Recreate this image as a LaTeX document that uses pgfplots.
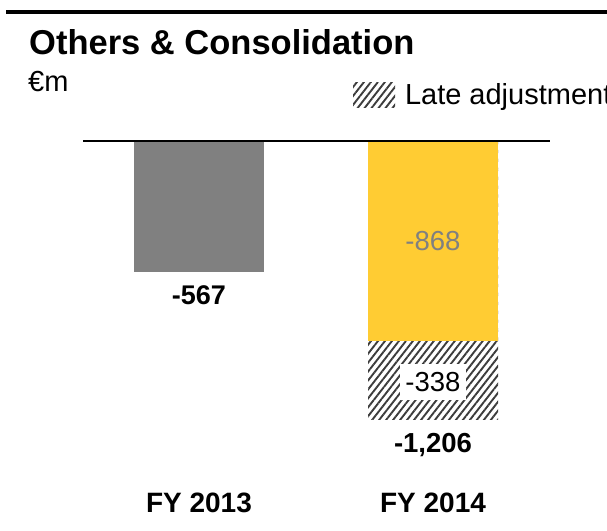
\documentclass[border=0pt]{standalone}
\usepackage{fontspec}
\setmainfont{Liberation Sans}
\usepackage{pgfplots}
\pgfplotsset{compat=1.18}
\usetikzlibrary{patterns.meta}
\definecolor{barGray}{RGB}{128,128,128}
\definecolor{barYellow}{RGB}{255,204,51}
\definecolor{hatchcol}{RGB}{60,60,60}
\tikzset{latehatch/.style={pattern={Lines[angle=52,distance=5.5pt,line width=1.9pt]}, pattern color=hatchcol}}
\begin{document}
\begin{tikzpicture}
\useasboundingbox (0,0) rectangle (607pt,530pt);
\draw[line width=3.5pt] (6pt,518pt) -- (607pt,518pt);
\node[anchor=base west, inner sep=0pt, font=\fontsize{34.5}{38}\selectfont\bfseries] at (29pt,475pt) {Others \& Consolidation};
\node[anchor=base west, inner sep=0pt, font=\fontsize{29}{32}\selectfont] at (28pt,438pt) {€m};
\begin{axis}[
  at={(83pt,89.2pt)}, anchor=south west,
  scale only axis, width=467pt, height=299.8pt,
  xmin=-0.4957, xmax=1.5, ymin=-1300, ymax=0,
  hide axis, clip=false,
  ybar, bar width=130pt, bar shift=0pt,
  legend image code/.code={\path[latehatch] (0pt,-12.5pt) rectangle (42pt,12.5pt);},
  legend style={at={(0.5782,1.155)}, anchor=west, draw=none, fill=none,
    inner sep=0pt, outer sep=0pt, nodes={inner sep=0pt},
    font=\fontsize{29}{32}\selectfont, legend cell align=left,
    /tikz/every odd column/.append style={column sep=10pt}},
]
\addplot[latehatch, draw=none] coordinates {(1,-1206)};
\addlegendentry{Late adjustment}
\addplot[fill=barYellow, draw=none] coordinates {(1,-868)};
\addplot[fill=barGray, draw=none] coordinates {(0,-567)};
\draw[line width=2pt] (axis cs:-0.4957,0) -- (axis cs:1.5,0);
\node[anchor=base, font=\fontsize{27}{30}\selectfont\bfseries] at (axis cs:0,-711) {-567};
\node[anchor=base, text=barGray, font=\fontsize{27.5}{30}\selectfont] at (axis cs:1,-473) {-868};
\node[anchor=base, fill=white, inner xsep=5.5pt, inner ysep=8.5pt, text depth=0pt, font=\fontsize{27.5}{30}\selectfont] at (axis cs:1,-1088) {-338};
\node[anchor=base, font=\fontsize{27.5}{30}\selectfont\bfseries] at (axis cs:1,-1349) {-1,206};
\node[anchor=base, font=\fontsize{28}{32}\selectfont\bfseries] at (axis cs:0,-1613) {FY 2013};
\node[anchor=base, font=\fontsize{28}{32}\selectfont\bfseries] at (axis cs:1,-1613) {FY 2014};
\end{axis}
\end{tikzpicture}
\end{document}
